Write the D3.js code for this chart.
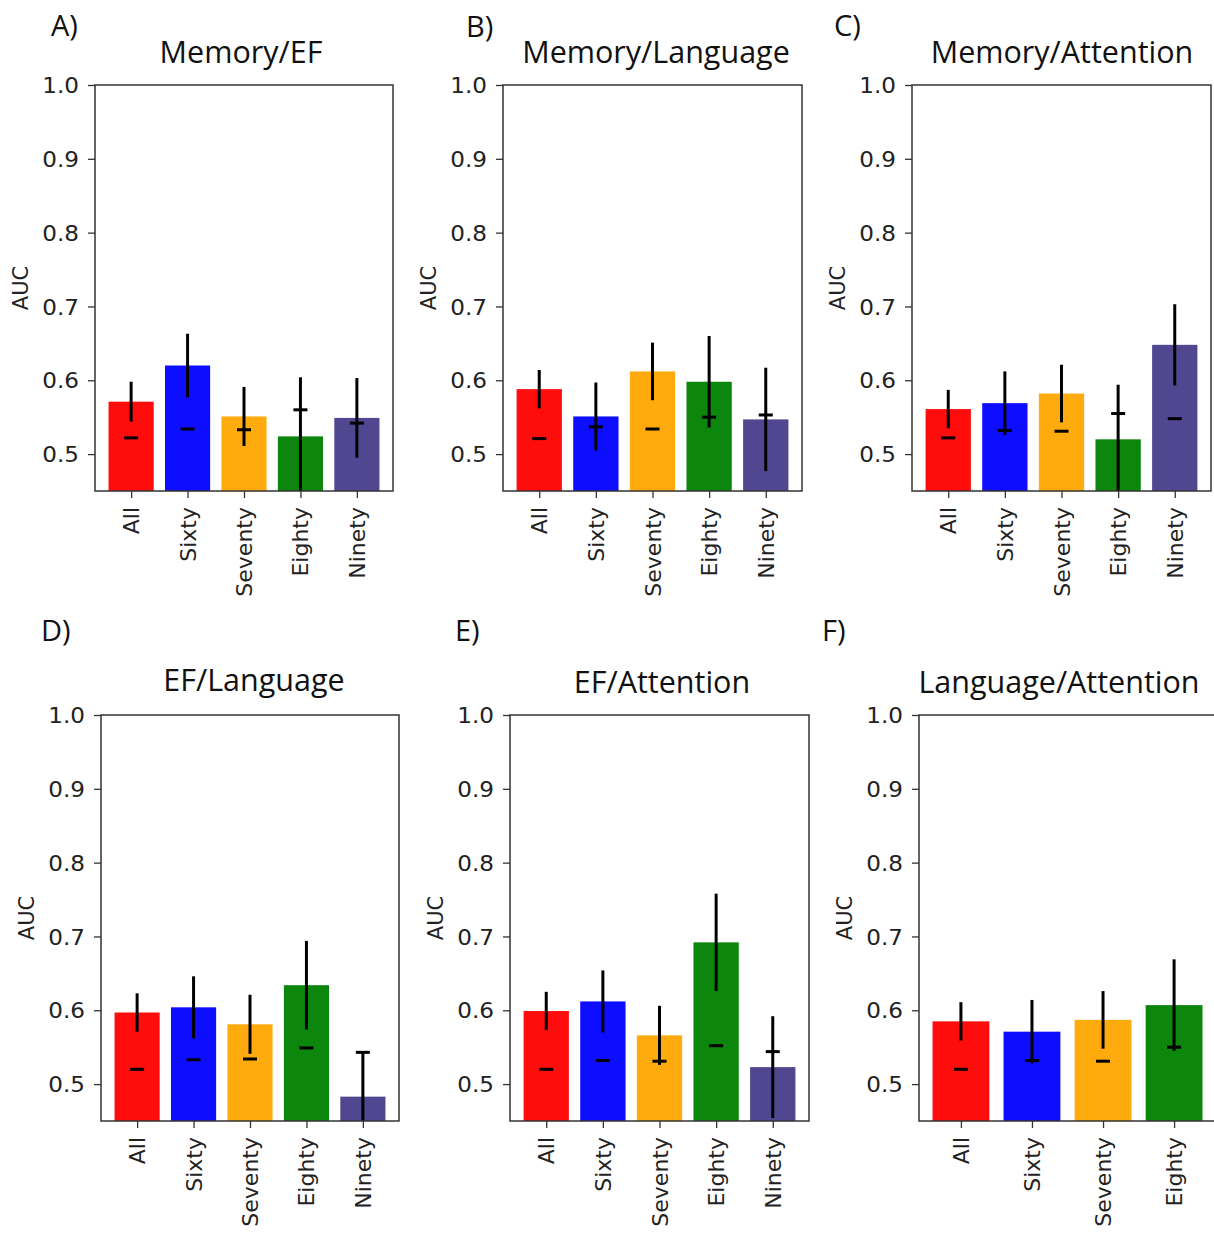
<!DOCTYPE html>
<html>
<head>
<meta charset="utf-8">
<script src="https://cdn.jsdelivr.net/npm/d3@7"></script>
<style>
  html, body { margin: 0; padding: 0; background: #ffffff; }
  svg { display: block; }
  .tick text { font-family: "DejaVu Sans", sans-serif; fill: #222; }
  .title, .letter { font-family: "Open Sans", "Noto Sans", sans-serif; fill: #111; }
</style>
</head>
<body>
<svg id="fig" width="1214" height="1234"></svg>
<script>
// Age groups on the x axis and their bar colours
const groups = ["All", "Sixty", "Seventy", "Eighty", "Ninety"];
const groupColors = ["#ff0000", "#0000ff", "#ffa500", "#007f00", "#483d8b"];

// Panel labels
const panelLetters = ["A)", "B)", "C)", "D)", "E)", "F)"];
const panelTitles = ["Memory/EF", "Memory/Language", "Memory/Attention",
                     "EF/Language", "EF/Attention", "Language/Attention"];

// Mean AUC, error half-width and the null (permutation) AUC per group
const aucMemoryEF = [0.571, 0.620, 0.551, 0.524, 0.549];
const errMemoryEF = [0.027, 0.043, 0.040, 0.080, 0.054];
const nullMemoryEF = [0.522, 0.534, 0.533, 0.560, 0.542];

const aucMemoryLanguage = [0.588, 0.551, 0.612, 0.598, 0.547];
const errMemoryLanguage = [0.026, 0.046, 0.039, 0.062, 0.070];
const nullMemoryLanguage = [0.521, 0.537, 0.534, 0.550, 0.553];

const aucMemoryAttention = [0.561, 0.569, 0.582, 0.520, 0.648];
const errMemoryAttention = [0.026, 0.043, 0.039, 0.074, 0.055];
const nullMemoryAttention = [0.522, 0.532, 0.531, 0.555, 0.548];

const aucEFLanguage = [0.597, 0.604, 0.581, 0.634, 0.483];
const errEFLanguage = [0.026, 0.042, 0.040, 0.060, 0.059];
const nullEFLanguage = [0.520, 0.533, 0.534, 0.549, 0.543];

const aucEFAttention = [0.599, 0.612, 0.566, 0.692, 0.523];
const errEFAttention = [0.026, 0.042, 0.040, 0.066, 0.069];
const nullEFAttention = [0.520, 0.532, 0.531, 0.552, 0.544];

const aucLanguageAttention = [0.585, 0.571, 0.587, 0.607];
const errLanguageAttention = [0.026, 0.043, 0.039, 0.062];
const nullLanguageAttention = [0.520, 0.532, 0.531, 0.550];

const yTicks = [0.5, 0.6, 0.7, 0.8, 0.9, 1.0];
const yDomain = [0.45, 1.0];

// Per-panel data, paired with its frame on the page
const panelData = [
  [aucMemoryEF, errMemoryEF, nullMemoryEF],
  [aucMemoryLanguage, errMemoryLanguage, nullMemoryLanguage],
  [aucMemoryAttention, errMemoryAttention, nullMemoryAttention],
  [aucEFLanguage, errEFLanguage, nullEFLanguage],
  [aucEFAttention, errEFAttention, nullEFAttention],
  [aucLanguageAttention, errLanguageAttention, nullLanguageAttention]
];
const frames = [
  { left: 95,  right: 393,  top: 85,  bottom: 491,  letterX: 51,  letterY: 36,  titleX: 241,  titleY: 63 },
  { left: 503, right: 802,  top: 85,  bottom: 491,  letterX: 466, letterY: 37,  titleX: 656,  titleY: 63 },
  { left: 912, right: 1211, top: 85,  bottom: 491,  letterX: 834, letterY: 36,  titleX: 1062, titleY: 63 },
  { left: 101, right: 399,  top: 715, bottom: 1121, letterX: 41,  letterY: 641, titleX: 254,  titleY: 691 },
  { left: 510, right: 809,  top: 715, bottom: 1121, letterX: 455, letterY: 641, titleX: 662,  titleY: 693 },
  { left: 919, right: 1216, top: 715, bottom: 1121, letterX: 822, letterY: 641, titleX: 1059, titleY: 693 }
];

const svg = d3.select("#fig");
const defs = svg.append("defs");

panelData.forEach((pd, i) => {
  const [auc, err, nul] = pd;
  const f = frames[i];
  const n = auc.length;
  const cats = groups.slice(0, n);

  // bar positions follow matplotlib's default bar width and 5% margins
  const barW = 0.8;
  const pad = (n - 1 + barW) * 0.05;
  const x = d3.scaleLinear()
    .domain([-barW / 2 - pad, n - 1 + barW / 2 + pad])
    .range([f.left, f.right]);
  const y = d3.scaleLinear().domain(yDomain).range([f.bottom, f.top]);

  const g = svg.append("g");
  const clipId = "clip" + i;
  defs.append("clipPath").attr("id", clipId)
    .append("rect")
    .attr("x", f.left).attr("y", f.top)
    .attr("width", f.right - f.left).attr("height", f.bottom - f.top);

  const plot = g.append("g").attr("clip-path", `url(#${clipId})`);

  // bars
  plot.selectAll("rect.bar").data(auc).join("rect")
    .attr("class", "bar")
    .attr("x", (d, k) => x(k - barW / 2))
    .attr("width", (d, k) => x(k + barW / 2) - x(k - barW / 2))
    .attr("y", d => y(d))
    .attr("height", d => y(yDomain[0]) - y(d))
    .attr("fill", (d, k) => groupColors[k])
    .attr("fill-opacity", 0.95);

  // error bars
  plot.selectAll("line.err").data(auc).join("line")
    .attr("class", "err")
    .attr("x1", (d, k) => x(k)).attr("x2", (d, k) => x(k))
    .attr("y1", (d, k) => y(d - err[k]))
    .attr("y2", (d, k) => y(d + err[k]))
    .attr("stroke", "#000").attr("stroke-width", 3);

  // null-model markers
  plot.selectAll("line.null").data(nul).join("line")
    .attr("class", "null")
    .attr("x1", (d, k) => x(k) - 7).attr("x2", (d, k) => x(k) + 7)
    .attr("y1", d => y(d)).attr("y2", d => y(d))
    .attr("stroke", "#000").attr("stroke-width", 3);

  // y axis
  const yAxis = g.append("g")
    .attr("transform", `translate(${f.left},0)`)
    .call(d3.axisLeft(y).tickValues(yTicks).tickFormat(d3.format(".1f")).tickSize(7));
  yAxis.select(".domain").remove();
  yAxis.selectAll(".tick line").attr("stroke", "#333").attr("stroke-width", 1.3);
  yAxis.selectAll(".tick text")
    .attr("font-size", 21)
    .attr("x", 0)
    .attr("text-anchor", "end")
    .attr("transform", "translate(-16,0) scale(1.1,1)")
    .attr("dy", "0.36em");

  // x axis with rotated group names
  const xAxis = g.append("g")
    .attr("transform", `translate(0,${f.bottom})`)
    .call(d3.axisBottom(x).tickValues(d3.range(n)).tickFormat(k => cats[k]).tickSize(7));
  xAxis.select(".domain").remove();
  xAxis.selectAll(".tick line").attr("stroke", "#333").attr("stroke-width", 1.3);
  xAxis.selectAll(".tick text")
    .attr("font-size", 22)
    .attr("y", 0).attr("x", 0).attr("dy", null)
    .attr("text-anchor", "end")
    .attr("dominant-baseline", "central")
    .attr("transform", "translate(0,16) rotate(-90)");

  // frame
  g.append("rect")
    .attr("x", f.left).attr("y", f.top)
    .attr("width", f.right - f.left).attr("height", f.bottom - f.top)
    .attr("fill", "none").attr("stroke", "#333").attr("stroke-width", 1.5);

  // y label
  g.append("text")
    .attr("transform", `translate(${f.left - 74},${(f.top + f.bottom) / 2}) rotate(-90)`)
    .attr("text-anchor", "middle")
    .attr("dominant-baseline", "central")
    .attr("font-family", "DejaVu Sans, sans-serif")
    .attr("font-size", 21)
    .attr("fill", "#222")
    .text("AUC");

  // title and panel letter
  g.append("text").attr("class", "title")
    .attr("x", f.titleX).attr("y", f.titleY)
    .attr("text-anchor", "middle")
    .attr("font-size", 30.5)
    .text(panelTitles[i]);
  g.append("text").attr("class", "letter")
    .attr("x", f.letterX).attr("y", f.letterY)
    .attr("font-size", 29)
    .text(panelLetters[i]);
});
</script>
</body>
</html>
